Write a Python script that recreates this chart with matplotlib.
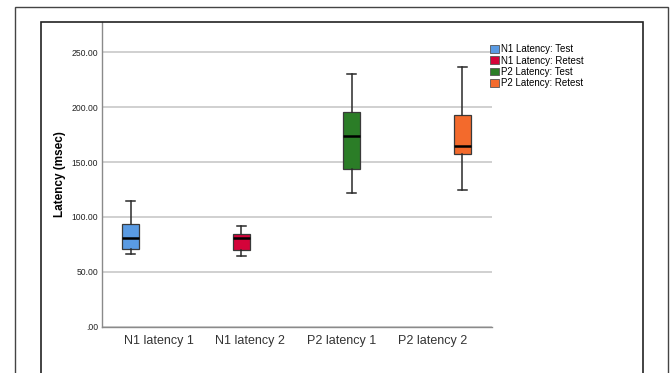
import matplotlib
matplotlib.use('Agg')
import matplotlib.pyplot as plt
from matplotlib.patches import Rectangle, Patch

plt.rcParams['font.family'] = ['Liberation Sans', 'DejaVu Sans']

# data
categories = ['N1 latency 1', 'N1 latency 2', 'P2 latency 1', 'P2 latency 2']
series = ['N1 Latency: Test', 'N1 Latency: Retest', 'P2 Latency: Test', 'P2 Latency: Retest']
colors = ['#5a9be3', '#d4033a', '#2b7d27', '#f36a2c']
whis_low = [66.3, 64.4, 121.6, 124.1]
q1 = [71.2, 69.9, 143.8, 156.9]
median = [80.8, 80.8, 173.6, 164.2]
q3 = [94.0, 84.5, 195.8, 192.5]
whis_high = [114.3, 91.5, 230.2, 236.9]
yticks = [0, 50, 100, 150, 200, 250]
ytick_labels = ['.00', '50.00', '100.00', '150.00', '200.00', '250.00']

# clustered slots: each category holds one series in its own slot
offsets = [-0.31, -0.10, 0.11, 0.32]

fig = plt.figure(figsize=(6.7, 3.73), dpi=100)
ax = fig.add_axes([0.1527, 0.1241, 0.581, 0.816])

for i in range(len(categories)):
    stats = [dict(whislo=whis_low[i], q1=q1[i], med=median[i], q3=q3[i],
                  whishi=whis_high[i], fliers=[])]
    ax.bxp(stats, positions=[i + offsets[i]], widths=0.19, patch_artist=True,
           showfliers=False,
           boxprops=dict(facecolor=colors[i], edgecolor='#3a3a3a', linewidth=0.9),
           medianprops=dict(color='black', linewidth=1.8),
           whiskerprops=dict(color='#2a2a2a', linewidth=1.1),
           capprops=dict(color='#2a2a2a', linewidth=1.1),
           zorder=3)

ax.set_xlim(-0.62, 3.64)
ax.set_ylim(0, 277.3)
ax.set_xticks(range(len(categories)))
ax.set_xticklabels(categories, fontsize=9, color='#333333')
ax.set_yticks(yticks)
ax.set_yticklabels(ytick_labels, fontsize=6.2, color='#222222')
ax.tick_params(length=0, pad=3)
ax.tick_params(axis='x', pad=6)
ax.yaxis.grid(True, color='#c8c8c8', linewidth=1.2)
ax.set_axisbelow(True)
for s in ['top', 'right']:
    ax.spines[s].set_visible(False)
for s in ['left', 'bottom']:
    ax.spines[s].set_color('#8a8a8a')
    ax.spines[s].set_linewidth(1.0)
ax.set_ylabel('Latency (msec)', fontsize=8.5, fontweight='bold')
ax.yaxis.set_label_coords(-0.093, 0.5)

handles = [Patch(facecolor=c, edgecolor='#555555', linewidth=0.6) for c in colors]
fig.legend(handles, series, loc='upper left', bbox_to_anchor=(490 / 670, 1 - 44.5 / 373),
           frameon=False, fontsize=7, handlelength=0.9, handleheight=0.85,
           handletextpad=0.25, labelspacing=0.12, borderaxespad=0, borderpad=0)

# frames around the chart
fig.add_artist(Rectangle((15 / 670, -0.1), 653 / 670, 1.1 - 7 / 373,
                         transform=fig.transFigure, fill=False,
                         edgecolor='#444444', linewidth=1.0))
fig.add_artist(Rectangle((41 / 670, -0.1), 602 / 670, 1.1 - 22 / 373,
                         transform=fig.transFigure, fill=False,
                         edgecolor='#222222', linewidth=1.2))

fig.savefig('out.png', dpi=100)
